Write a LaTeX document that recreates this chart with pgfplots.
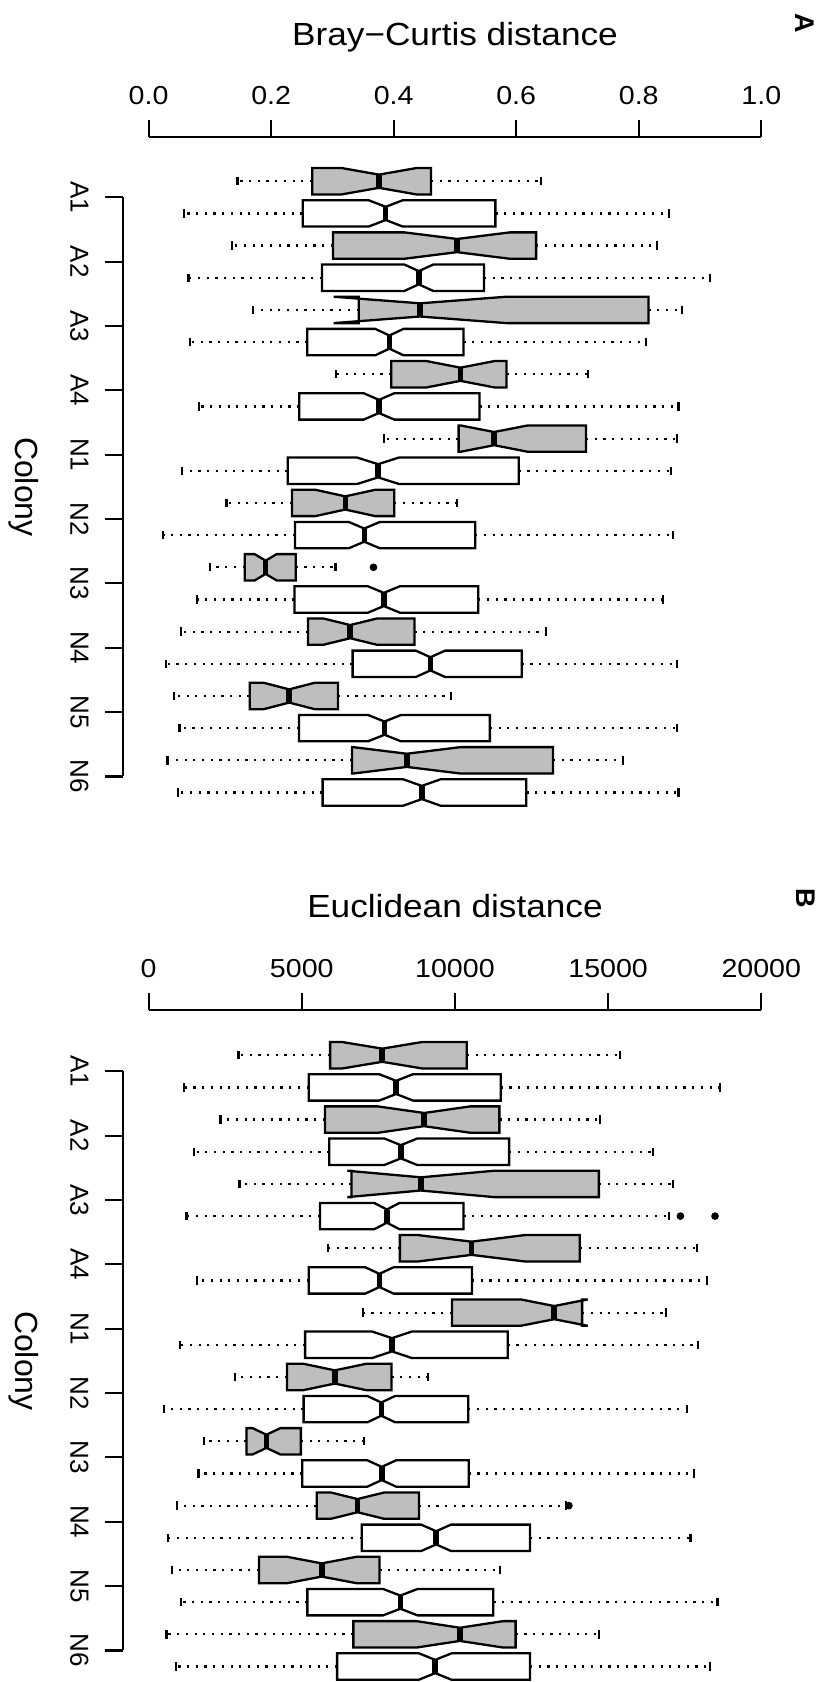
\documentclass[border=0pt]{standalone}
\usepackage{fontspec}
\setmainfont{Liberation Sans}
\usepackage{graphicx}
\usepackage{pgfplots}
\pgfplotsset{compat=1.18}
\usepgfplotslibrary{statistics}
\newlength{\pxu}
\setlength{\pxu}{0.5pt}
\definecolor{boxgrey}{RGB}{190,190,190}
\newcommand{\titlefont}{\fontsize{16}{19}\selectfont}
\newcommand{\tickfont}{\fontsize{13}{15}\selectfont}
\newcommand{\hs}[1]{\scalebox{1.1}[1]{#1}}
\tikzset{wsk/.style={line width=2.2\pxu, dash pattern=on 2.2\pxu off 6.5\pxu}}
\pgfplotsset{
  /pgfplots/boxplot/notch lo/.initial=0,
  /pgfplots/boxplot/notch hi/.initial=0,
  notched/.style={
    boxplot/box extend=0.82,
    boxplot/whisker extend=0.26,
    boxplot/draw/box/.code={%
      \draw[/pgfplots/boxplot/every box/.try]
        (boxplot box cs:\pgfplotsboxplotvalue{lower quartile},0)
        -- (boxplot box cs:\pgfplotsboxplotvalue{notch lo},0)
        -- (boxplot box cs:\pgfplotsboxplotvalue{median},0.25)
        -- (boxplot box cs:\pgfplotsboxplotvalue{notch hi},0)
        -- (boxplot box cs:\pgfplotsboxplotvalue{upper quartile},0)
        -- (boxplot box cs:\pgfplotsboxplotvalue{upper quartile},1)
        -- (boxplot box cs:\pgfplotsboxplotvalue{notch hi},1)
        -- (boxplot box cs:\pgfplotsboxplotvalue{median},0.75)
        -- (boxplot box cs:\pgfplotsboxplotvalue{notch lo},1)
        -- (boxplot box cs:\pgfplotsboxplotvalue{lower quartile},1)
        -- cycle;
    },
    boxplot/draw/median/.code={%
      \draw[black, line width=5.5\pxu]
        (boxplot box cs:\pgfplotsboxplotvalue{median},0.25)
        -- (boxplot box cs:\pgfplotsboxplotvalue{median},0.75);
    },
    boxplot/draw/lower whisker/.code={%
      \draw[black, wsk] (boxplot cs:\pgfplotsboxplotvalue{lower quartile})
        -- (boxplot cs:\pgfplotsboxplotvalue{lower whisker});
      \draw[black, line width=2.2\pxu]
        (boxplot whisker cs:\pgfplotsboxplotvalue{lower whisker},0)
        -- (boxplot whisker cs:\pgfplotsboxplotvalue{lower whisker},1);
    },
    boxplot/draw/upper whisker/.code={%
      \draw[black, wsk] (boxplot cs:\pgfplotsboxplotvalue{upper quartile})
        -- (boxplot cs:\pgfplotsboxplotvalue{upper whisker});
      \draw[black, line width=2.2\pxu]
        (boxplot whisker cs:\pgfplotsboxplotvalue{upper whisker},0)
        -- (boxplot whisker cs:\pgfplotsboxplotvalue{upper whisker},1);
    },
  },
  gbox/.style={notched, boxplot/every box/.style={draw=black, line width=2.3\pxu, fill=boxgrey}},
  wbox/.style={notched, boxplot/every box/.style={draw=black, line width=2.3\pxu, fill=white}},
  outl/.style={only marks, mark=*, mark size=3.4\pxu, black},
  topaxis/.style={
    scale only axis, width=612.7\pxu, height=10\pxu, anchor=north west,
    ymin=0, ymax=1, enlargelimits=false, scaled x ticks=false,
    axis x line*=top, axis y line=none,
    tick align=outside, major tick length=17.4\pxu,
    axis line style={line width=2.2\pxu},
    tick style={line width=2.2\pxu, black},
    xticklabel style={font=\tickfont, anchor=base, inner sep=0pt},
    xticklabel shift=15.6\pxu,
  },
  dataaxis/.style={
    scale only axis, width=638.1\pxu, height=579.1\pxu, anchor=north west,
    ymin=1.5, ymax=19.5, y dir=reverse, enlargelimits=false,
    axis x line=none, axis y line*=left, clip=false,
    ytick={1.5,3.5,5.5,7.5,9.5,11.5,13.5,15.5,17.5,19.5},
    yticklabels={A1,A2,A3,A4,N1,N2,N3,N4,N5,N6},
    tick align=outside, major tick length=18.6\pxu,
    axis line style={line width=2.2\pxu},
    tick style={line width=2.2\pxu, black},
    yticklabel style={font=\tickfont, rotate=-90, anchor=north, inner sep=0pt},
    yticklabel shift=15.6\pxu,
  },
}
% #1 style, #2 position, #3 lower whisker, #4 Q1, #5 notch low, #6 median, #7 notch high, #8 Q3, #9 upper whisker
\newcommand{\nbox}[9]{\addplot[#1, boxplot prepared={draw position=#2, lower whisker=#3, lower quartile=#4, notch lo=#5, median=#6, notch hi=#7, upper quartile=#8, upper whisker=#9}] coordinates {};}

\begin{document}
\begin{tikzpicture}
% ---------------- Panel A ----------------
\node[anchor=base] at (455\pxu,-45\pxu) {\titlefont\hs{Bray−Curtis distance}};
\node[rotate=-90, inner sep=0pt] at (805\pxu,-23\pxu) {\fontsize{13.5}{15}\selectfont\bfseries A};
\node[rotate=-90, inner sep=0pt] at (23.6\pxu,-486.8\pxu) {\titlefont Colony};
\begin{axis}[topaxis, at={(148.6\pxu,-137.3\pxu)}, xmin=0, xmax=1,
  xtick={0,0.2,0.4,0.6,0.8,1}, xticklabels={\hs{0.0},\hs{0.2},\hs{0.4},\hs{0.6},\hs{0.8},\hs{1.0}}]
\end{axis}
\begin{axis}[dataaxis, at={(123.2\pxu,-197.3\pxu)}, xmin=-0.041456, xmax=1]
\nbox{gbox}{1}{0.145}{0.267}{0.315}{0.376}{0.437}{0.461}{0.640}
\nbox{wbox}{2}{0.058}{0.2515}{0.359}{0.387}{0.415}{0.566}{0.849}
\nbox{gbox}{3}{0.136}{0.301}{0.4175}{0.5035}{0.5895}{0.6325}{0.830}
\nbox{wbox}{4}{0.065}{0.283}{0.4175}{0.441}{0.4645}{0.5475}{0.916}
\nbox{gbox}{5}{0.171}{0.343}{0.302}{0.443}{0.584}{0.816}{0.871}
\nbox{wbox}{6}{0.067}{0.259}{0.370}{0.393}{0.416}{0.514}{0.812}
\nbox{gbox}{7}{0.306}{0.396}{0.4535}{0.509}{0.5645}{0.584}{0.717}
\nbox{wbox}{8}{0.082}{0.246}{0.351}{0.376}{0.401}{0.540}{0.865}
\nbox{gbox}{9}{0.384}{0.506}{0.509}{0.564}{0.619}{0.714}{0.862}
\nbox{wbox}{10}{0.055}{0.227}{0.3405}{0.3745}{0.4085}{0.604}{0.8525}
\nbox{gbox}{11}{0.127}{0.234}{0.272}{0.321}{0.370}{0.401}{0.5035}
\nbox{wbox}{12}{0.023}{0.239}{0.3265}{0.352}{0.3775}{0.533}{0.8555}
\nbox{gbox}{13}{0.100}{0.157}{0.173}{0.191}{0.209}{0.240}{0.305}
\nbox{wbox}{14}{0.079}{0.238}{0.358}{0.384}{0.410}{0.538}{0.840}
\nbox{gbox}{15}{0.053}{0.260}{0.285}{0.329}{0.373}{0.434}{0.648}
\nbox{wbox}{16}{0.028}{0.333}{0.436}{0.460}{0.484}{0.609}{0.863}
\nbox{gbox}{17}{0.042}{0.165}{0.188}{0.2295}{0.271}{0.309}{0.493}
\nbox{wbox}{18}{0.0505}{0.2455}{0.358}{0.385}{0.412}{0.557}{0.863}
\nbox{gbox}{19}{0.031}{0.332}{0.334}{0.4215}{0.509}{0.660}{0.774}
\nbox{wbox}{20}{0.048}{0.284}{0.4155}{0.446}{0.4765}{0.6165}{0.865}
\addplot[outl] coordinates {(0.367,13)};
\end{axis}
% ---------------- Panel B ----------------
\node[anchor=base] at (455\pxu,-917.7\pxu) {\titlefont\hs{Euclidean distance}};
\node[rotate=-90, inner sep=0pt] at (805.7\pxu,-898.6\pxu) {\fontsize{13.5}{15}\selectfont\bfseries B};
\node[rotate=-90, inner sep=0pt] at (23.6\pxu,-1360.8\pxu) {\titlefont Colony};
\begin{axis}[topaxis, at={(148.6\pxu,-1010\pxu)}, xmin=0, xmax=20000,
  xtick={0,5000,10000,15000,20000}, xticklabels={\hs{0},\hs{5000},\hs{10000},\hs{15000},\hs{20000}}]
\end{axis}
\begin{axis}[dataaxis, at={(123.2\pxu,-1071.3\pxu)}, xmin=-829.1, xmax=20000]
\nbox{gbox}{1}{2936}{5926}{6328}{7626}{8924}{10388}{15396}
\nbox{wbox}{2}{1161}{5228}{7527}{8081}{8635}{11496}{18644}
\nbox{gbox}{3}{2345}{5759}{7482}{8992}{10502}{11450}{14728}
\nbox{wbox}{4}{1495}{5896}{7702}{8233}{8764}{11769}{16473}
\nbox{gbox}{5}{2967}{6625}{6487}{8885}{11283}{14698}{17111}
\nbox{wbox}{6}{1237}{5592}{7361}{7778}{8195}{10281}{17000}
\nbox{gbox}{7}{5866}{8203}{8802}{10540}{12278}{14076}{17900}
\nbox{wbox}{8}{1586}{5228}{7072}{7535}{7998}{10555}{18219}
\nbox{gbox}{9}{7004}{9903}{12148}{13241}{14334}{14151}{16883}
\nbox{wbox}{10}{1024}{5109}{7300}{7945}{8590}{11723}{17930}
\nbox{gbox}{11}{2815}{4515}{5054}{6078}{7102}{7929}{9113}
\nbox{wbox}{12}{508}{5061}{7140}{7595}{8050}{10433}{17566}
\nbox{gbox}{13}{1813}{3194}{3392}{3847}{4302}{4970}{7019}
\nbox{wbox}{14}{1631}{5016}{7141}{7611}{8081}{10449}{17794}
\nbox{gbox}{15}{933}{5486}{5948}{6821}{7694}{8825}{13620}
\nbox{wbox}{16}{630}{6958}{8900}{9386}{9872}{12452}{17688}
\nbox{gbox}{17}{751}{3604}{4522}{5653}{6784}{7535}{11465}
\nbox{wbox}{18}{1055}{5183}{7656}{8218}{8780}{11253}{18568}
\nbox{gbox}{19}{584}{6685}{8749}{10160}{11571}{11981}{14713}
\nbox{wbox}{20}{903}{6154}{8825}{9356}{9887}{12452}{18325}
\addplot[outl] coordinates {(17360,6) (18490,6) (13720,15)};
\end{axis}
\pgfresetboundingbox
\path (0,0) rectangle (826\pxu,-1682\pxu);
\end{tikzpicture}
\end{document}
